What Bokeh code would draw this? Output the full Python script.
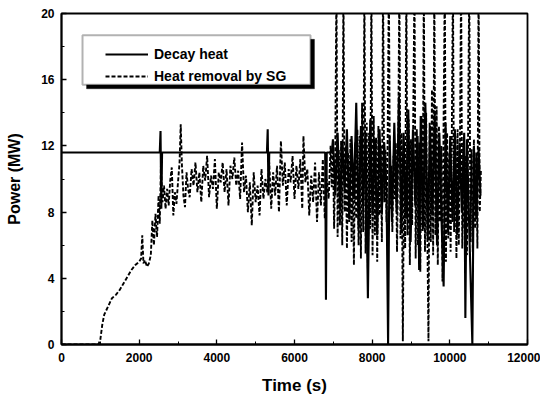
from bokeh.plotting import figure
from bokeh.models import (Legend, LegendItem, BoxAnnotation, SingleIntervalTicker,
                          Range1d)
from bokeh.embed import file_html
from bokeh.resources import INLINE

# ---------------- data ----------------
decay_time = [0, 2530, 2550, 2570, 2590, 5290, 5310, 5330, 5350, 6790, 6810, 6830, 6960,
              6990, 7050, 7110, 7170, 7230, 7290, 7350, 7410, 7470, 7530, 7590, 7650,
              7710, 7770, 7830, 7890, 7950, 8010, 8070, 8130, 8190, 8250, 8310, 8370,
              8410, 8450, 8510, 8570, 8630, 8690, 8750, 8810, 8870, 8930, 8990, 9050,
              9110, 9170, 9210, 9250, 9310, 9370, 9430, 9490, 9550, 9610, 9670, 9730,
              9790, 9840, 9890, 9950, 10010, 10070, 10130, 10190, 10250, 10310, 10370,
              10400, 10440, 10500, 10580, 10620, 10680, 10740, 10790]
decay_power = [11.6, 11.6, 12.9, 8.2, 11.6, 11.6, 13.0, 9.0, 11.6, 11.6, 2.7, 11.6, 11.6,
               12.4, 9.0, 12.8, 8.2, 12.2, 9.4, 13.0, 7.6, 12.6, 8.8, 14.6, 7.0,
               13.2, 8.4, 12.8, 2.8, 13.6, 7.8, 12.4, 6.6, 13.0, 8.0, 12.2, 9.2,
               0.0, 12.6, 7.4, 13.4, 8.0, 15.0, 6.8, 12.8, 7.6, 14.2, 6.2, 13.0,
               8.4, 12.6, 4.5, 13.8, 7.0, 14.6, 6.4, 13.2, 7.8, 14.0, 6.0, 12.8,
               7.2, 3.5, 13.4, 6.8, 12.6, 7.4, 13.0, 6.6, 12.2, 8.0, 12.8,
               1.6, 12.4, 7.0, 0.0, 12.0, 7.6, 11.8, 9.0]

sg_time = [0, 950, 1000, 1050, 1100, 1200, 1300, 1400, 1500, 1600, 1700, 1800, 1900,
           2000, 2050, 2080, 2110, 2150, 2200, 2250, 2300, 2340, 2380, 2420, 2460, 2500,
           2530, 2560, 2600, 2640, 2680, 2720, 2760, 2800, 2840, 2880, 2920, 2960, 3000,
           3040, 3070, 3100, 3140, 3180, 3220, 3260,
           3300, 3350, 3400, 3450, 3500, 3550, 3600, 3650, 3700, 3750, 3800, 3850, 3900,
           3950, 4000, 4050, 4100, 4150, 4200, 4250, 4300, 4350, 4400, 4450, 4500, 4550,
           4600, 4650, 4700, 4750, 4800, 4850, 4900, 4950, 5000, 5050, 5100, 5150, 5200,
           5250, 5300, 5350, 5400, 5450, 5500, 5550, 5600, 5650, 5700, 5750, 5800, 5850,
           5900, 5950, 6000, 6050, 6100, 6150, 6200, 6230, 6280, 6330, 6380, 6430, 6480,
           6530, 6580, 6630, 6680, 6730, 6780, 6830, 6880, 6930,
           6960, 6990, 7020, 7050, 7080, 7110, 7140, 7170, 7200, 7230, 7260, 7290, 7320,
           7350, 7380, 7410, 7440, 7470, 7500, 7530, 7560, 7590, 7620, 7650, 7680, 7710,
           7740, 7770, 7800, 7830, 7860, 7890, 7920, 7950, 7980, 8010, 8040, 8070, 8100,
           8130, 8160, 8190, 8220, 8250, 8280, 8310, 8340, 8370, 8400, 8430, 8460, 8490,
           8520, 8550, 8580, 8610, 8640, 8670, 8700, 8730, 8760, 8790, 8820, 8850, 8880,
           8910, 8940, 8970, 9000, 9030, 9060, 9090, 9120, 9150, 9180, 9210, 9240, 9270,
           9300, 9330, 9360, 9390, 9420, 9450, 9480, 9510, 9540, 9570, 9600, 9630, 9660,
           9690, 9720, 9750, 9780, 9810, 9840, 9870, 9900, 9930, 9960, 9990, 10020, 10050,
           10080, 10110, 10140, 10170, 10200, 10230, 10260, 10290, 10320, 10350, 10380,
           10410, 10440, 10470, 10500, 10530, 10560, 10590, 10620, 10650, 10680, 10710,
           10740, 10770, 10800]
sg_power = [0.0, 0.0, 0.3, 1.2, 1.8, 2.3, 2.8, 3.0, 3.3, 3.7, 4.1, 4.5, 4.8,
            5.0, 5.2, 6.6, 4.9, 5.1, 4.7, 4.9, 5.4, 7.5, 6.0, 7.9, 6.5, 9.0,
            7.3, 10.8, 8.6, 9.6, 8.2, 9.4, 8.4, 9.9, 10.7, 7.8, 9.2, 8.5, 9.8,
            11.0, 13.3, 10.9, 9.0, 8.3, 10.4, 9.4,
            8.9, 10.6, 9.6, 11.0, 9.2, 10.4, 8.6, 10.8, 9.9, 11.4, 8.9, 10.2, 9.4,
            11.2, 8.2, 10.4, 9.8, 11.0, 9.2, 10.6, 8.4, 10.8, 10.0, 11.3, 9.6, 10.5,
            8.8, 12.2, 9.2, 10.2, 8.0, 9.8, 7.2, 10.4, 8.6, 9.6, 7.8, 10.6, 8.8,
            10.0, 9.2, 11.0, 8.2, 10.4, 9.0, 10.8, 8.0, 12.3, 9.6, 11.0, 8.4, 10.6,
            9.8, 11.4, 8.8, 10.8, 9.4, 11.2, 8.2, 12.6, 9.8, 10.6, 7.8, 10.2, 8.6,
            11.0, 7.4, 10.4, 8.4, 11.2, 7.6, 10.0, 8.8, 12.0,
            9.5, 12.0, 7.0, 11.5, 22.0, 6.5, 11.8, 7.2, 12.3, 6.0, 22.0, 8.0, 12.0,
            5.8, 11.6, 7.4, 12.4, 6.2, 11.0, 4.8, 12.2, 7.6, 13.0, 6.0, 12.6, 5.2,
            14.6, 6.8, 22.0, 5.5, 13.4, 4.6, 12.8, 7.0, 22.0, 5.4, 13.8, 6.6, 12.5,
            5.0, 13.2, 7.8, 12.0, 6.2, 22.0, 8.6, 11.8, 7.4, 12.6, 22.0, 8.2, 10.8,
            6.8, 11.4, 8.8, 12.2, 5.6, 11.6, 22.0, 6.4, 12.8, 0.2, 11.2, 5.8, 22.0,
            6.6, 13.6, 4.8, 12.4, 7.2, 14.2, 22.0, 5.2, 13.0, 6.0, 12.2, 4.4, 13.8,
            6.8, 22.0, 5.6, 14.0, 7.0, 0.2, 13.4, 6.2, 15.4, 5.4, 22.0, 6.6, 14.4,
            4.8, 13.2, 7.4, 12.0, 3.8, 13.6, 22.0, 5.0, 12.8, 6.4, 11.6, 5.6, 12.4,
            22.0, 6.8, 12.6, 5.2, 13.0, 6.0, 11.8, 22.0, 5.8, 12.2, 7.0,
            11.4, 5.4, 12.6, 22.0, 6.2, 11.8, 5.6, 12.4, 7.0, 11.6, 5.8,
            22.0, 8.0, 10.5]

x_start, x_end = 0, 12000
y_start, y_end = 0, 20
label_decay = "Decay heat"
label_sg = "Heat removal by SG"

# ---------------- figure ----------------
FONT = "Liberation Sans"
p = figure(width=540, height=397, output_backend="svg", toolbar_location=None,
           x_range=Range1d(x_start, x_end), y_range=Range1d(y_start, y_end),
           min_border_left=61, min_border_right=13, min_border_top=13, min_border_bottom=50)
p.background_fill_color = "white"
p.border_fill_color = "white"
p.outline_line_color = "black"
p.outline_line_width = 1.8
p.xgrid.visible = False
p.ygrid.visible = False

p.xaxis.ticker = SingleIntervalTicker(interval=2000, num_minor_ticks=2)
p.yaxis.ticker = SingleIntervalTicker(interval=4, num_minor_ticks=2)
for ax in (p.xaxis[0], p.yaxis[0]):
    ax.axis_line_width = 1.8
    ax.axis_line_color = "black"
    ax.major_tick_in = 5
    ax.major_tick_out = 0
    ax.minor_tick_in = 3
    ax.minor_tick_out = 0
    ax.major_tick_line_width = 1.3
    ax.minor_tick_line_width = 1.0
    ax.major_label_text_font = FONT
    ax.major_label_text_font_style = "bold"
    ax.major_label_text_font_size = "12px"
    ax.major_label_text_color = "black"
    ax.axis_label_text_font = FONT
    ax.axis_label_text_font_style = "bold"
    ax.axis_label_text_color = "black"

p.xaxis.axis_label = "Time (s)"
p.yaxis.axis_label = "Power (MW)"
p.xaxis.axis_label_text_font_size = "17px"
p.yaxis.axis_label_text_font_size = "16px"
p.xaxis.major_label_standoff = 8
p.yaxis.major_label_standoff = 7
p.xaxis.axis_label_standoff = 11
p.yaxis.axis_label_standoff = 15

r_decay = p.line(decay_time, decay_power, line_color="black", line_width=2.1)
r_sg = p.line(sg_time, sg_power, line_color="black", line_width=1.9, line_dash="4 2")

# legend box with shadow (positions in data units of the fixed ranges)
shadow = BoxAnnotation(left=644, right=6515, top=18.44, bottom=15.45,
                       fill_color="black", fill_alpha=1.0, line_color="black")
box = BoxAnnotation(left=541, right=6412, top=18.68, bottom=15.7,
                    fill_color="white", fill_alpha=1.0, line_color="black",
                    line_width=2)
p.add_layout(shadow)
p.add_layout(box)

legend = Legend(items=[LegendItem(label=label_decay, renderers=[r_decay]),
                       LegendItem(label=label_sg, renderers=[r_sg])],
                location=(44, 259), orientation="vertical",
                background_fill_alpha=0, border_line_alpha=0,
                padding=0, margin=0, spacing=4,
                glyph_width=43, glyph_height=18, label_height=18, label_standoff=6,
                label_text_font=FONT, label_text_font_size="14px",
                label_text_font_style="bold", label_text_color="black")
p.add_layout(legend)

open("out.html", "w").write(file_html(p, INLINE))
